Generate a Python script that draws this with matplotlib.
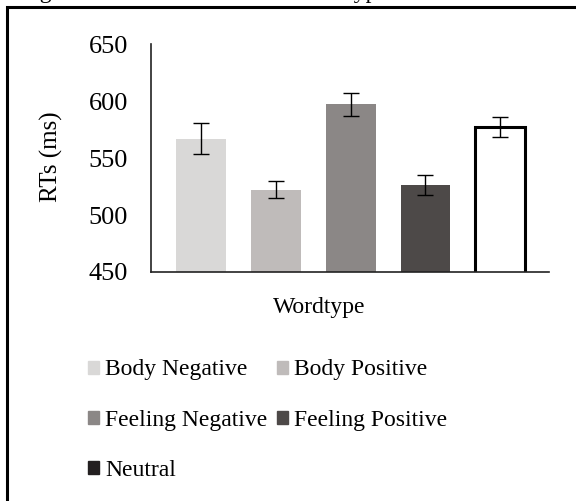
import matplotlib.pyplot as plt
from matplotlib.patches import Patch, Rectangle

categories = ['Body Negative', 'Body Positive', 'Feeling Negative',
              'Feeling Positive', 'Neutral']
rt_means = [567, 522, 597, 526, 577]
rt_errors = [13.5, 7.5, 10, 8.7, 8.6]
yticks = [450, 500, 550, 600, 650]

bar_colors = ['#d9d8d7', '#bfbbba', '#8b8786', '#4d4948', 'white']
legend_colors = ['#d9d8d7', '#bfbbba', '#8b8786', '#4d4948', '#231f20']

plt.rcParams['font.family'] = ['Liberation Serif', 'DejaVu Serif']
plt.rcParams['font.size'] = 17

W, H = 576, 501
fig = plt.figure(figsize=(W / 100, H / 100), dpi=100)

# outer frame (cropped at right / bottom)
fig.patches.append(Rectangle((7 / W, -0.1), 1.2, 1 - 7 / H + 0.1,
                             transform=fig.transFigure, fill=False,
                             edgecolor='black', linewidth=2.2))
# cropped caption line at the very top
fig.text(20 / W, 1 + 2 / H, 'Figure 1. Mean RTs for each Wordtype',
         ha='left', va='baseline', fontsize=17)

ax = fig.add_axes([151 / W, 1 - 272 / H, 398 / W, 228 / H])
x = list(range(len(categories)))
bars = ax.bar(x, rt_means, width=0.667, color=bar_colors, zorder=2)
bars[-1].set_edgecolor('black')
bars[-1].set_linewidth(2.2)
ax.errorbar(x, rt_means, yerr=rt_errors, fmt='none', ecolor='black',
            elinewidth=1, capsize=5.8, capthick=1, zorder=3)

ax.set_xlim(-0.667, 4.65)
ax.set_ylim(450, 650)
ax.set_yticks(yticks)
ax.set_xticks([])
ax.tick_params(axis='y', length=0, pad=16.5, labelsize=19)
for s in ['top', 'right']:
    ax.spines[s].set_visible(False)
for s in ['left', 'bottom']:
    ax.spines[s].set_color('#222222')
    ax.spines[s].set_linewidth(1.2)

ax.set_ylabel('RTs (ms)', fontsize=18)
ax.yaxis.set_label_coords((63 - 151) / 398, 0.504)
ax.set_xlabel('Wordtype', fontsize=17)
ax.xaxis.set_label_coords((319 - 151) / 398, -(307 - 272) / 228)
ax.xaxis.label.set_va('center')

# legend: column-wise fill, so reorder to get the two-column layout
order = [0, 2, 4, 1, 3]
handles = [Patch(facecolor=legend_colors[i], edgecolor=legend_colors[i])
           for i in order]
labels = [categories[i] for i in order]
fig.legend(handles, labels, ncol=2, frameon=False, fontsize=17,
           loc='upper left', bbox_to_anchor=(88 / W, 1 - 359.5 / H),
           borderpad=0, borderaxespad=0, handlelength=0.47, handleheight=0.47,
           handletextpad=0.25, columnspacing=0.4, labelspacing=1.23)

fig.savefig('out.png', dpi=100)
